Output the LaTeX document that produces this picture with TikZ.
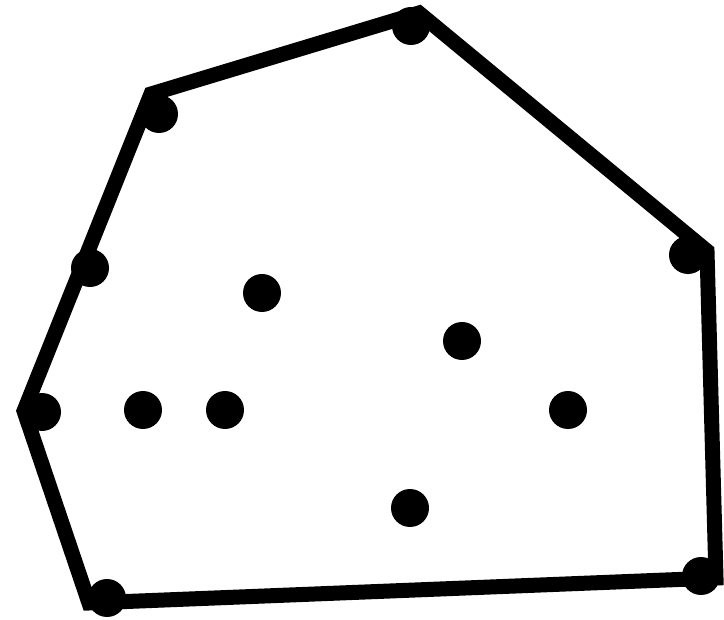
\documentclass[tikz,border=0pt]{standalone}
\usetikzlibrary{positioning}

\begin{document}
\begin{tikzpicture}[
      x=1pt, y=-1pt,
      hull/.style={line width=15pt, line join=miter, draw=black},
      pt/.style={circle, fill=black, minimum size=38pt, inner sep=0pt},
   ]
      \useasboundingbox (0,0) rectangle (724,620);

      % hull corners
      \coordinate (h1) at (419,13);
      \coordinate (h2) at (707,251);
      \coordinate (h3) at (716,578);
      \coordinate (h4) at (89,603);
      \coordinate (h5) at (24,411);
      \coordinate (h6) at (151,94);

      % convex hull
      \draw[hull] (h1) -- (h2) -- (h3) -- (h4) -- (h5) -- (h6) -- cycle;

      % points on the hull
      \node[pt] (p1) at (411,26) {};
      \node[pt] (p2) at (688,255) {};
      \node[pt] (p3) at (701,576) {};
      \node[pt] (p4) at (107,598) {};
      \node[pt] (p5) at (42,412) {};
      \node[pt] (p6) at (90,268) {};
      \node[pt] (p7) at (159,114) {};

      % points inside
      \node[pt] (q1) at (262,293) {};
      \node[pt] (q2) at (462,341) {};
      \node[pt] (q3) at (143,410) {};
      \node[pt] (q4) at (225,410) {};
      \node[pt] (q5) at (568,410) {};
      \node[pt] (q6) at (410,508) {};
   \end{tikzpicture}
\end{document}
